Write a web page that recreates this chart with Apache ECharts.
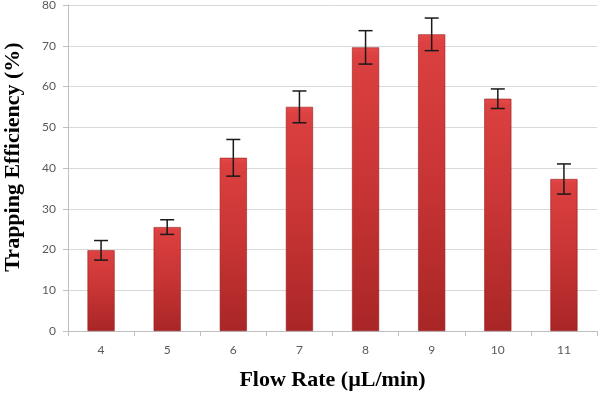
<!DOCTYPE html>
<html lang="en">
<head>
    <meta charset="UTF-8">
    <title>Trapping Efficiency</title>
    <script src="https://cdn.jsdelivr.net/npm/echarts@6/dist/echarts.min.js"></script>
</head>
<body style="margin:0">
<div id="main" style="width: 600px;height:394px;"></div>
<script>
    // data
    let flowRates = ['4', '5', '6', '7', '8', '9', '10', '11'];
    let efficiency = [19.8, 25.5, 42.5, 55.0, 69.6, 72.8, 57.0, 37.3];
    let errors = [2.4, 1.8, 4.5, 3.9, 4.1, 4.0, 2.4, 3.7];

    let chartDom = document.getElementById('main');
    let myChart = echarts.init(chartDom);
    let option;

    let barColor = new echarts.graphic.LinearGradient(0, 0, 0, 1, [
        {offset: 0, color: '#e54a4a'},
        {offset: 0.03, color: '#dc4040'},
        {offset: 0.5, color: '#c83434'},
        {offset: 1, color: '#a92626'}
    ]);

    let errData = efficiency.map(function (v, i) {
        return [i, v - errors[i], v + errors[i]];
    });

    option = {
        animation: false,
        grid: {left: 68, right: 3, top: 5, bottom: 63, outerBoundsMode: 'none', containLabel: false},
        xAxis: {
            type: 'category',
            data: flowRates,
            name: 'Flow Rate (µL/min)',
            nameLocation: 'middle',
            nameGap: 38,
            nameTextStyle: {fontFamily: 'Liberation Serif', fontWeight: 'bold', fontSize: 22, color: '#000'},
            axisLine: {lineStyle: {color: '#bfbfbf'}},
            axisTick: {show: true, length: 5, lineStyle: {color: '#bfbfbf'}},
            axisLabel: {color: '#595959', fontFamily: 'Lato', fontSize: 12, margin: 13}
        },
        yAxis: {
            type: 'value',
            min: 0,
            max: 80,
            interval: 10,
            name: 'Trapping Efficiency (%)',
            nameLocation: 'middle',
            nameGap: 44,
            nameTextStyle: {fontFamily: 'Liberation Serif', fontWeight: 'bold', fontSize: 22, color: '#000', padding: [0, 0, 0, 22]},
            axisLine: {show: true, lineStyle: {color: '#bfbfbf'}},
            axisTick: {show: true, length: 5, lineStyle: {color: '#bfbfbf'}},
            axisLabel: {color: '#595959', fontFamily: 'Lato', fontSize: 12, margin: 12},
            splitLine: {lineStyle: {color: '#d9d9d9'}}
        },
        series: [
            {
                type: 'bar',
                data: efficiency,
                barWidth: '41%',
                itemStyle: {color: barColor, borderColor: '#961c1c', borderWidth: 0.6}
            },
            {
                type: 'custom',
                data: errData,
                z: 10,
                renderItem: function (params, api) {
                    let x = api.value(0);
                    let lo = api.coord([x, api.value(1)]);
                    let hi = api.coord([x, api.value(2)]);
                    let cap = 7;
                    let style = {stroke: '#1a1a1a', lineWidth: 1.5};
                    return {
                        type: 'group',
                        children: [
                            {type: 'line', shape: {x1: hi[0], y1: hi[1], x2: lo[0], y2: lo[1]}, style: style},
                            {type: 'line', shape: {x1: hi[0] - cap, y1: hi[1], x2: hi[0] + cap, y2: hi[1]}, style: style},
                            {type: 'line', shape: {x1: lo[0] - cap, y1: lo[1], x2: lo[0] + cap, y2: lo[1]}, style: style}
                        ]
                    };
                }
            }
        ]
    };

    option && myChart.setOption(option);
</script>
</body>
</html>
